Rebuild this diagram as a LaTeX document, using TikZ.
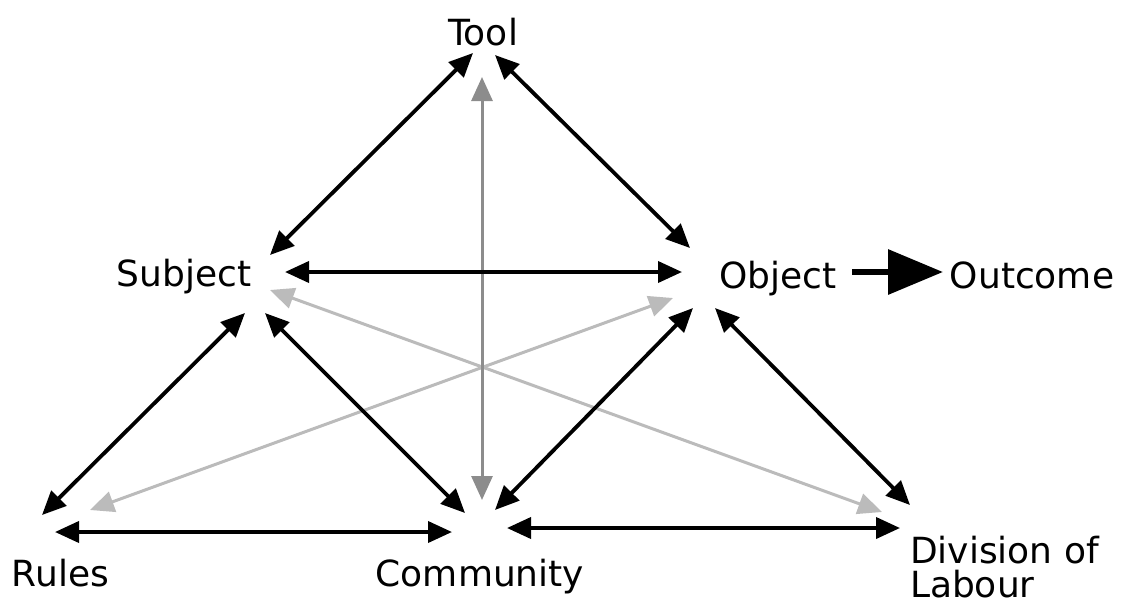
\documentclass[tikz,border=0pt]{standalone}
\usepackage{fontspec}
\setmainfont{DejaVu Sans}
\usetikzlibrary{arrows.meta}
\definecolor{lightgr}{HTML}{BBBBBB}
\definecolor{midgr}{HTML}{8C8C8C}
\tikzset{
  lbl/.style={font=\fontsize{36}{36}\selectfont, inner sep=0pt, outer sep=0pt},
  tipb/.tip={Triangle[length=24pt,width=21pt]},
  biarrow/.style={line width=3.8pt, black, tipb-tipb},
  grayarrow/.style={line width=3pt, lightgr, tipb-tipb},
  vgrayarrow/.style={line width=3pt, midgr, tipb-tipb},
  bigarrow/.style={line width=6.5pt, -{Triangle[length=55pt,width=44pt]}}
}
\begin{document}
\begin{tikzpicture}[x=1pt,y=-1pt]
\useasboundingbox (0,0) rectangle (1124,606);
% labels
\node[lbl, anchor=base] (tool) at (483,45) {Tool};
\node[lbl, anchor=base] (subject) at (184,286) {Subject};
\node[lbl, anchor=base] (object) at (778,288) {Object};
\node[lbl, anchor=base] (outcome) at (1032,288) {Outcome};
\node[lbl, anchor=base west] (rules) at (12,586) {Rules};
\node[lbl, anchor=base] (community) at (480,586) {Community};
\node[lbl, anchor=base west, align=left, text depth=0pt] (division) at (910,597) {Division of\\[-2pt]Labour};
% connector end points
\coordinate (t-s) at (473,53);   \coordinate (s-t) at (270,255);
\coordinate (t-o) at (495,55);   \coordinate (o-t) at (690,248);
\coordinate (t-c) at (482,77);   \coordinate (c-t) at (482,500);
\coordinate (s-o) at (285,272);  \coordinate (o-s) at (682,272);
\coordinate (s-d) at (270,290);  \coordinate (d-s) at (882,512);
\coordinate (o-r) at (673,298);  \coordinate (r-o) at (90,510);
\coordinate (s-r) at (245,313);  \coordinate (r-s) at (42,515);
\coordinate (s-c) at (265,313);  \coordinate (c-s) at (465,513);
\coordinate (o-c) at (693,308);  \coordinate (c-o) at (495,510);
\coordinate (o-d) at (715,308);  \coordinate (d-o) at (910,505);
\coordinate (r-c) at (55,532);   \coordinate (c-r) at (452,532);
\coordinate (c-d) at (507,528);  \coordinate (d-c) at (900,528);
\coordinate (o-out) at (852,272); \coordinate (out-o) at (943,272);
% gray connectors
\draw[grayarrow] (s-d) -- (d-s);
\draw[grayarrow] (o-r) -- (r-o);
\draw[vgrayarrow] (t-c) -- (c-t);
% black connectors
\draw[biarrow] (t-s) -- (s-t);
\draw[biarrow] (t-o) -- (o-t);
\draw[biarrow] (s-o) -- (o-s);
\draw[biarrow] (s-r) -- (r-s);
\draw[biarrow] (s-c) -- (c-s);
\draw[biarrow] (o-c) -- (c-o);
\draw[biarrow] (o-d) -- (d-o);
\draw[biarrow] (r-c) -- (c-r);
\draw[biarrow] (c-d) -- (d-c);
\draw[bigarrow] (o-out) -- (out-o);
\end{tikzpicture}
\end{document}
